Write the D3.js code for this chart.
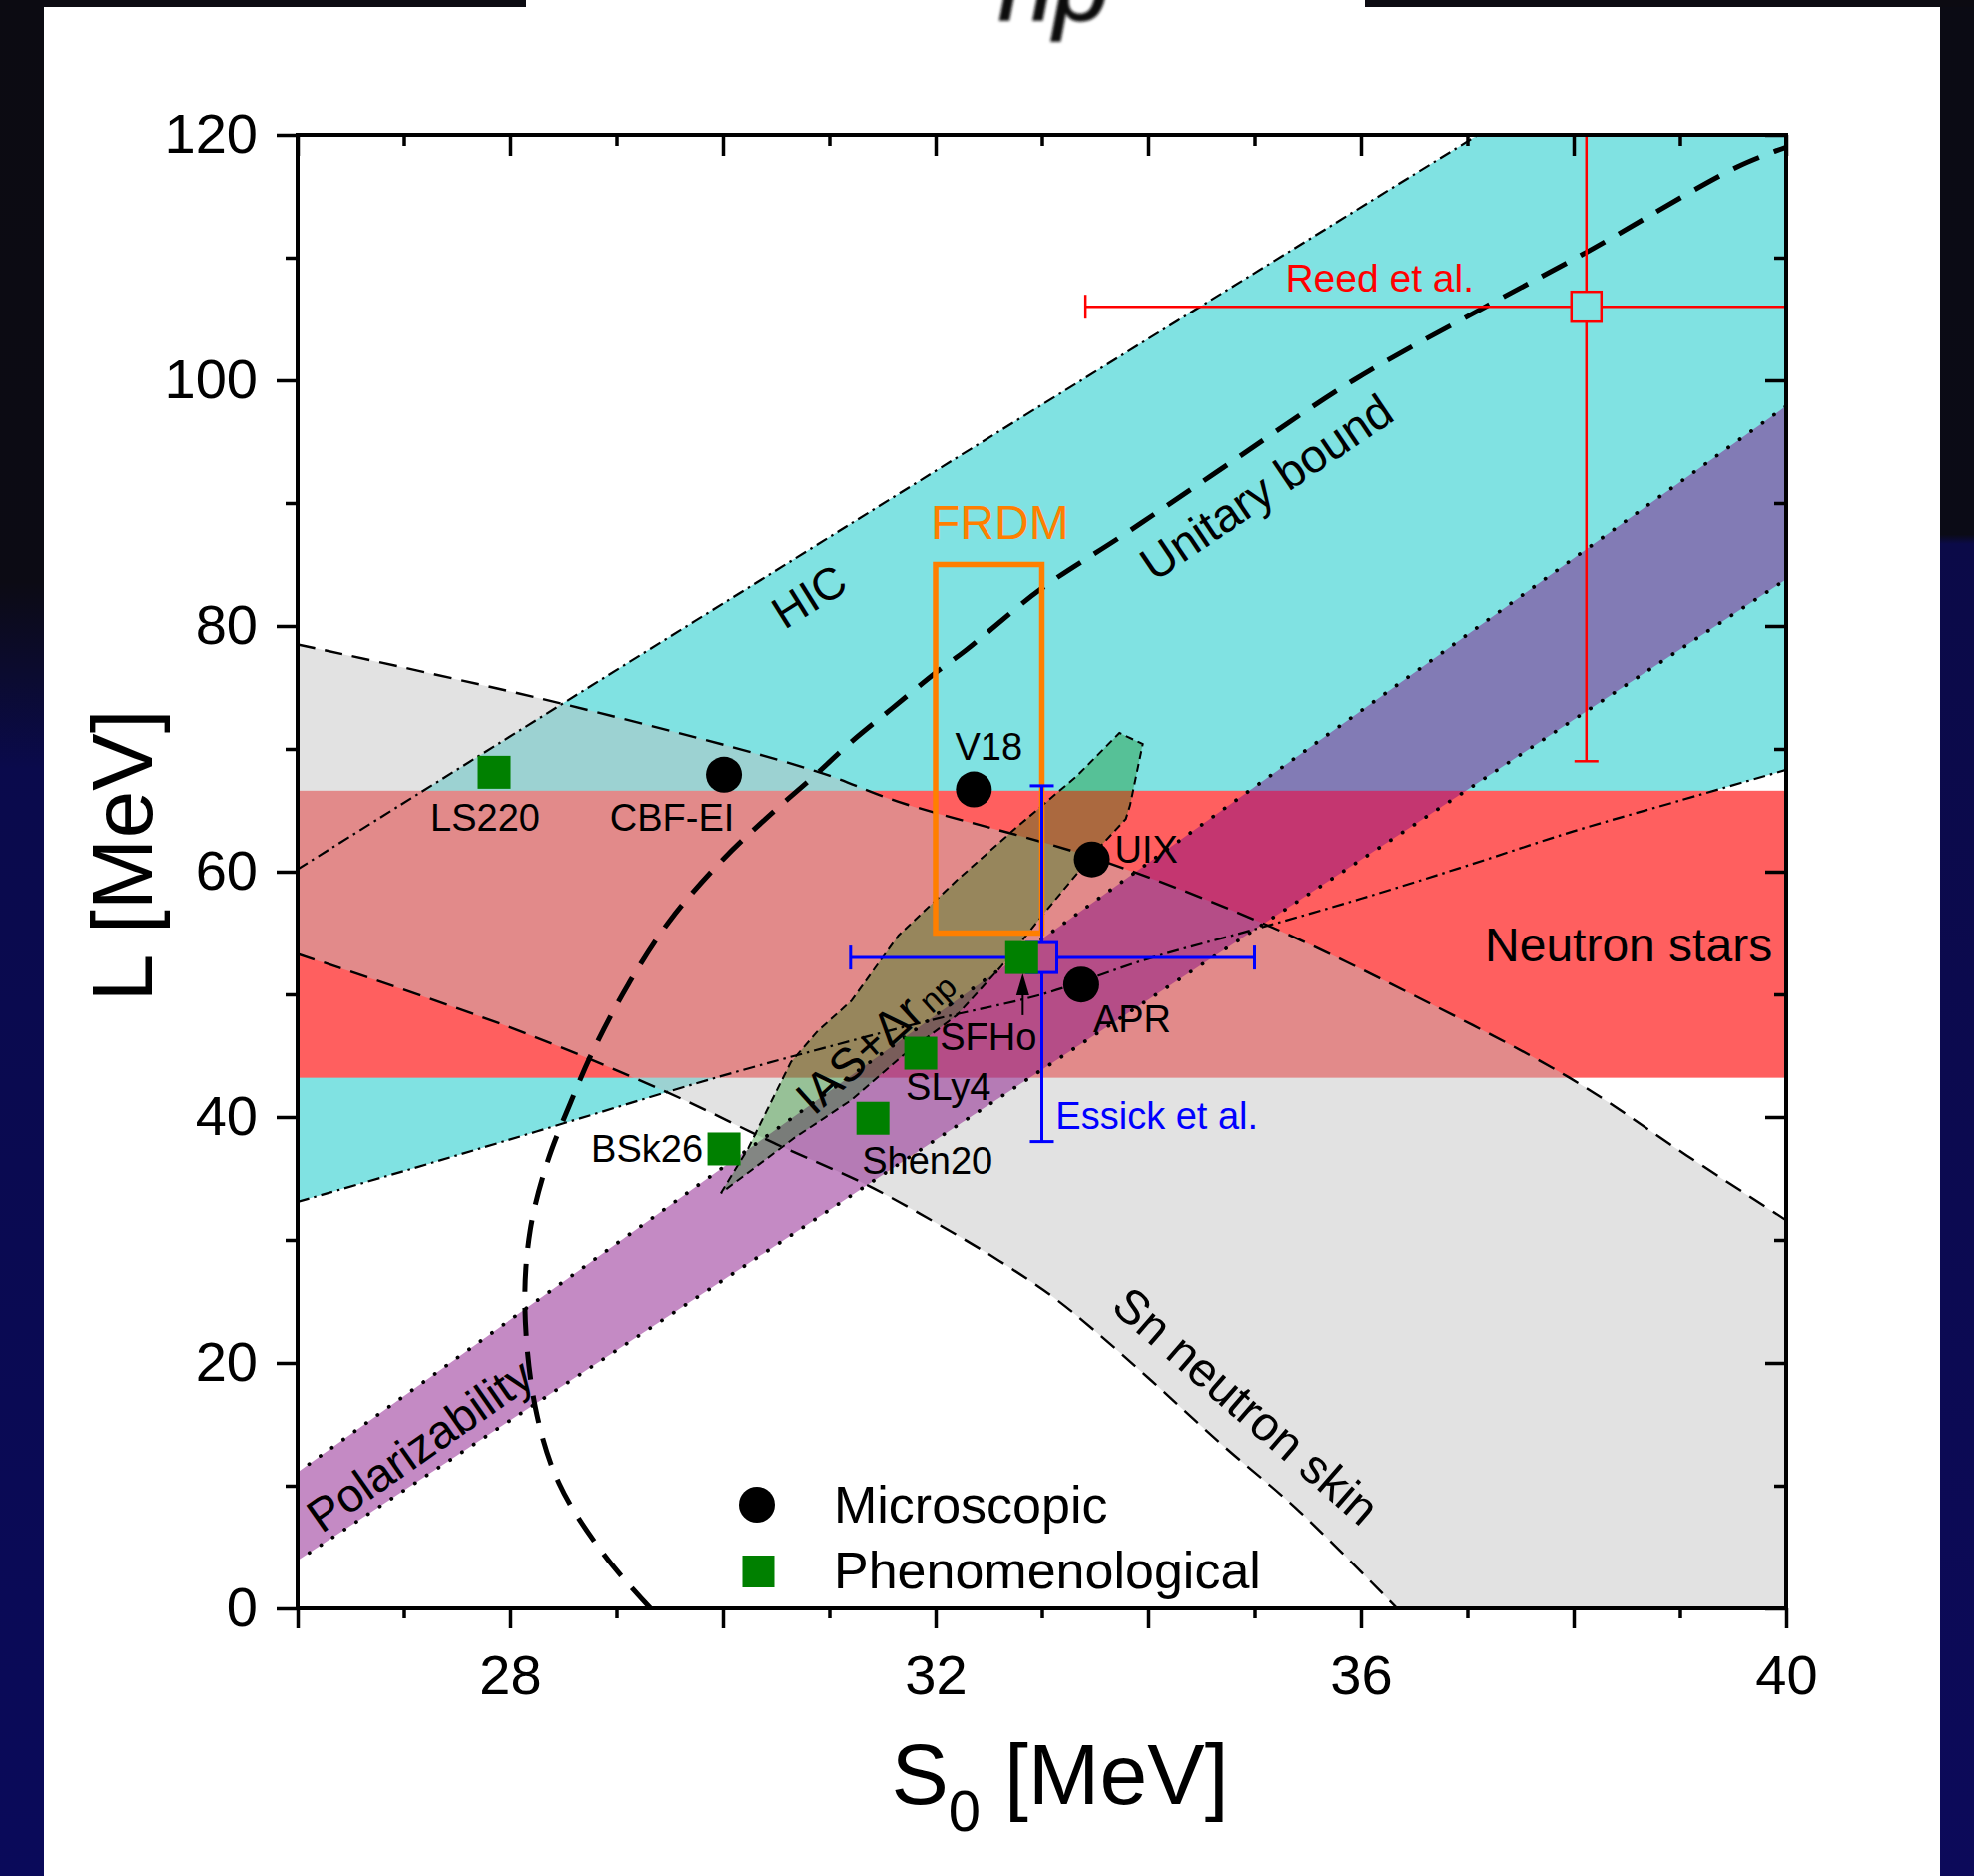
<!DOCTYPE html>
<html>
<head>
<meta charset="utf-8">
<script src="https://cdn.jsdelivr.net/npm/d3@7"></script>
<style>
  html, body { margin: 0; padding: 0; background: #fff; }
  svg { display: block; }
  text { font-family: "Liberation Sans", Arial, Helvetica, sans-serif; }
</style>
</head>
<body>
<svg id="chart" width="1977" height="1879"></svg>
<script>
// ---------------- data ----------------
const xDomain = [26, 40];
const yDomain = [0, 120];
const xMajorTicks = [26, 28, 30, 32, 34, 36, 38, 40];
const xMinorTicks = [27, 29, 31, 33, 35, 37, 39];
const xLabelTicks = [28, 32, 36, 40];
const yMajorTicks = [0, 20, 40, 60, 80, 100, 120];
const yMinorTicks = [10, 30, 50, 70, 90, 110];

// HIC constraint band (boundaries in S0, L)
const hicUpper = [[26, 60.2], [32.59, 95.8], [37.1, 120]];
const hicLower = [[26, 33.1], [27, 35.6], [28.24, 38.8], [29.97, 43.3], [30.94, 45.6],
                  [31.96, 47.9], [33, 50.0], [34, 52.9], [35, 55.3], [36, 57.8],
                  [37, 60.5], [38, 63.3], [39, 65.8], [40, 68.3]];

// Neutron star band in L
const nsBand = [43.2, 66.6];

// Sn neutron skin band
const snUpper = [[26, 78.5], [28.48, 73.7], [30.87, 68.2], [31.65, 65.7], [33.46, 61.2],
                 [35.05, 55.9], [36.5, 49.9], [37.96, 43.2], [39.06, 36.9], [40, 31.6]];
const snLower = [[26, 53.3], [28, 47.3], [29.48, 42.0], [30.5, 37.8], [31.37, 34.4],
                 [32.02, 31.3], [32.6, 28.3], [33.1, 25.4], [33.5, 22.6], [34.0, 18.8],
                 [34.7, 13.3], [35.41, 8.0], [36.34, 0]];

// Dipole polarizability band
const polUpper = [[26, 11.1], [40, 97.9]];
const polLower = [[26, 3.9], [40, 83.8]];

// IAS + Delta r_np contour
const iasContour = [[29.98, 33.8], [30.24, 37.5], [30.45, 41.2], [30.64, 44.5], [30.89, 47.0],
                    [31.21, 49.5], [31.65, 54.8], [32.2, 59.3], [32.76, 63.6], [33.33, 67.8],
                    [33.73, 71.3], [33.95, 70.4], [33.83, 65.4], [33.79, 64.3], [33.49, 61.5],
                    [33.03, 56.7], [32.62, 52.3], [32.2, 48.3], [31.69, 45.0], [31.21, 41.4],
                    [30.67, 38.3]];

// Unitary gas bound
const unitaryBound = [[29.32, 0], [28.89, 4.3], [28.46, 10.2], [28.24, 16.3], [28.14, 24.6],
                      [28.19, 30.8], [28.35, 36.3], [28.57, 41.2], [28.78, 45.4], [29.11, 50.8],
                      [29.5, 56.0], [30.0, 61.0], [30.4, 64.3], [30.87, 67.9], [31.21, 70.6],
                      [31.59, 73.3], [32.0, 76.2], [32.28, 78.0], [32.99, 83.0], [33.75, 87.3],
                      [34.59, 92.2], [35.93, 100.0], [37.17, 106.0], [38.09, 110.3],
                      [39.54, 117.4], [40, 119.0]];

// FRDM box
const frdmS = [32, 33];
const frdmL = [55, 85];

// Reed et al.
const reedS = 38.12, reedL = 106.0;
const reedSRange = [33.41, 42.83];
const reedLRange = [69.0, 143.0];

// Essick et al.
const essickS = 33.0, essickL = 53.0;
const essickSRange = [31.2, 35.0];
const essickLRange = [38.0, 67.0];

// Microscopic calculations
const microNames = ["CBF-EI", "V18", "UIX", "APR"];
const microS = [30.01, 32.36, 33.47, 33.37];
const microL = [67.9, 66.7, 61.0, 50.8];

// Phenomenological models
const phenoNames = ["LS220", "BSk26", "Shen20", "SLy4", "SFHo"];
const phenoS = [27.85, 30.01, 31.41, 31.86, 32.81];
const phenoL = [68.1, 37.4, 39.9, 45.2, 53.0];

// SFHo pointer arrow
const arrowS = 32.82;
const arrowL = [48.3, 51.7];

// ---------------- layout ----------------
const W = 1977, H = 1879;
const plot = { left: 298, right: 1789, top: 135, bottom: 1611 };

const svg = d3.select("#chart");
const x = d3.scaleLinear().domain(xDomain).range([plot.left, plot.right]);
const y = d3.scaleLinear().domain(yDomain).range([plot.bottom, plot.top]);

const defs = svg.append("defs");

// slide backdrop
const gl = defs.append("linearGradient").attr("id", "leftStrip")
  .attr("x1", 0).attr("y1", 0).attr("x2", 0).attr("y2", 1);
[[0, "#0c0b12"], [0.31, "#0c0b14"], [0.36, "#0b0b30"], [0.41, "#0a0a4c"], [1, "#0a0a5a"]]
  .forEach(([o, c]) => gl.append("stop").attr("offset", o).attr("stop-color", c));
const gr = defs.append("linearGradient").attr("id", "rightStrip")
  .attr("x1", 0).attr("y1", 0).attr("x2", 0).attr("y2", 1);
[[0, "#0b0b14"], [0.285, "#0b0b16"], [0.29, "#0b0a48"], [1, "#0c0a5a"]]
  .forEach(([o, c]) => gr.append("stop").attr("offset", o).attr("stop-color", c));

svg.append("rect").attr("width", W).attr("height", H).attr("fill", "#fff");
svg.append("rect").attr("x", 0).attr("y", 0).attr("width", 44).attr("height", H).attr("fill", "url(#leftStrip)");
svg.append("rect").attr("x", 1943).attr("y", 0).attr("width", W - 1943).attr("height", H).attr("fill", "url(#rightStrip)");
svg.append("rect").attr("x", 0).attr("y", 0).attr("width", 527).attr("height", 7).attr("fill", "#0c0b12");
svg.append("rect").attr("x", 1367).attr("y", 0).attr("width", W - 1367).attr("height", 7).attr("fill", "#0c0b12");

// clipped remnant of a heading above the figure
defs.append("filter").attr("id", "soft").append("feGaussianBlur").attr("stdDeviation", 1.8);
svg.append("text").attr("x", 1000).attr("y", 20)
  .attr("font-family", "'Liberation Serif','DejaVu Serif',serif")
  .attr("font-style", "italic").attr("font-size", 100).attr("fill", "#111")
  .attr("stroke", "#111").attr("stroke-width", 1.5)
  .attr("filter", "url(#soft)").text("np");

// plotting area clip
defs.append("clipPath").attr("id", "plotClip").append("rect")
  .attr("x", plot.left).attr("y", plot.top)
  .attr("width", plot.right - plot.left).attr("height", plot.bottom - plot.top);

const g = svg.append("g").attr("clip-path", "url(#plotClip)");

const straight = d3.line().x(d => x(d[0])).y(d => y(d[1]));
const smooth = d3.line().x(d => x(d[0])).y(d => y(d[1])).curve(d3.curveCatmullRom.alpha(0.5));
const closedLinear = d3.line().x(d => x(d[0])).y(d => y(d[1])).curve(d3.curveLinearClosed);

// upper boundary, straight corner segments, then lower boundary walked backwards
function bandPath(upper, corners, lower) {
  let p = smooth(upper);
  corners.forEach(c => { p += "L" + x(c[0]) + "," + y(c[1]); });
  p += smooth(lower.slice().reverse()).replace(/^M/, "L");
  return p + "Z";
}

// fills
g.append("path").attr("d", bandPath(hicUpper, [[xDomain[1], yDomain[1]]], hicLower))
  .attr("fill", "#80e2e2");
g.append("rect").attr("x", x(xDomain[0])).attr("width", x(xDomain[1]) - x(xDomain[0]))
  .attr("y", y(nsBand[1])).attr("height", y(nsBand[0]) - y(nsBand[1]))
  .attr("fill", "#ff5f5f");
g.append("path").attr("d", bandPath(snUpper, [[xDomain[1], yDomain[0]]], snLower))
  .attr("fill", "rgb(190,190,190)").attr("fill-opacity", 0.45);
g.append("path").attr("d", bandPath(polUpper, [], polLower))
  .attr("fill", "rgb(132,11,132)").attr("fill-opacity", 0.48);
g.append("path").attr("d", closedLinear(iasContour))
  .attr("fill", "rgb(0,128,0)").attr("fill-opacity", 0.33);

// boundary lines
[hicUpper, hicLower].forEach(d => g.append("path").attr("d", smooth(d))
  .attr("fill", "none").attr("stroke", "#000").attr("stroke-width", 2.2)
  .attr("stroke-dasharray", "12,5,2.5,5"));
[snUpper, snLower].forEach(d => g.append("path").attr("d", smooth(d))
  .attr("fill", "none").attr("stroke", "#000").attr("stroke-width", 2.4)
  .attr("stroke-dasharray", "18,10"));
[polUpper, polLower].forEach(d => g.append("path").attr("d", straight(d))
  .attr("fill", "none").attr("stroke", "#000").attr("stroke-width", 3.8)
  .attr("stroke-linecap", "round").attr("stroke-dasharray", "0.1,14"));
g.append("path").attr("d", closedLinear(iasContour))
  .attr("fill", "none").attr("stroke", "#000").attr("stroke-width", 2)
  .attr("stroke-dasharray", "8,5");
g.append("path").attr("d", smooth(unitaryBound))
  .attr("fill", "none").attr("stroke", "#000").attr("stroke-width", 5)
  .attr("stroke-dasharray", "28,16");

// FRDM box
g.append("rect").attr("x", x(frdmS[0])).attr("y", y(frdmL[1]))
  .attr("width", x(frdmS[1]) - x(frdmS[0])).attr("height", y(frdmL[0]) - y(frdmL[1]))
  .attr("fill", "none").attr("stroke", "#ff7f00").attr("stroke-width", 5.5);

// error-bar helper: bars stop at the open square's edge
function errorCross(cx, cy, sRange, lRange, color, half, width, capLen, caps) {
  const px = x(cx), py = y(cy);
  const eb = g.append("g").attr("stroke", color).attr("stroke-width", width).attr("fill", "none");
  eb.append("line").attr("x1", x(sRange[0])).attr("x2", px - half).attr("y1", py).attr("y2", py);
  eb.append("line").attr("x1", px + half).attr("x2", x(sRange[1])).attr("y1", py).attr("y2", py);
  eb.append("line").attr("x1", px).attr("x2", px).attr("y1", y(lRange[0])).attr("y2", py + half);
  eb.append("line").attr("x1", px).attr("x2", px).attr("y1", py - half).attr("y2", y(lRange[1]));
  if (caps.includes("left")) eb.append("line").attr("x1", x(sRange[0])).attr("x2", x(sRange[0]))
    .attr("y1", py - capLen / 2).attr("y2", py + capLen / 2);
  if (caps.includes("right")) eb.append("line").attr("x1", x(sRange[1])).attr("x2", x(sRange[1]))
    .attr("y1", py - capLen / 2).attr("y2", py + capLen / 2);
  if (caps.includes("bottom")) eb.append("line").attr("x1", px - capLen / 2).attr("x2", px + capLen / 2)
    .attr("y1", y(lRange[0])).attr("y2", y(lRange[0]));
  if (caps.includes("top")) eb.append("line").attr("x1", px - capLen / 2).attr("x2", px + capLen / 2)
    .attr("y1", y(lRange[1])).attr("y2", y(lRange[1]));
  eb.append("rect").attr("x", px - half).attr("y", py - half).attr("width", 2 * half).attr("height", 2 * half);
}

errorCross(reedS, reedL, reedSRange, reedLRange, "#ff0000", 15, 2.5, 24, ["left", "bottom"]);

// model points
const pts = svg.append("g");
pts.selectAll("circle.micro").data(microNames).join("circle").attr("class", "micro")
  .attr("cx", (d, i) => x(microS[i])).attr("cy", (d, i) => y(microL[i])).attr("r", 18)
  .attr("fill", "#000");
const sq = 33;
pts.selectAll("rect.pheno").data(phenoNames).join("rect").attr("class", "pheno")
  .attr("x", (d, i) => x(phenoS[i]) - sq / 2).attr("y", (d, i) => y(phenoL[i]) - sq / 2)
  .attr("width", sq).attr("height", sq).attr("fill", "#008000");

errorCross(essickS, essickL, essickSRange, essickLRange, "#0000ff", 15, 3, 24, ["left", "right", "top", "bottom"]);

// point labels
const labelPlace = {
  "CBF-EI": ["middle", -52, 56], "V18": ["middle", 15, -30], "UIX": ["start", 23, 3],
  "APR": ["start", 12, 48], "LS220": ["middle", -9, 59], "BSk26": ["end", -21, 13],
  "Shen20": ["start", -11, 56], "SLy4": ["start", -15, 47], "SFHo": ["start", -82, 93]
};
const labelFont = 38;
microNames.forEach((n, i) => {
  const [a, dx, dy] = labelPlace[n];
  svg.append("text").attr("x", x(microS[i]) + dx).attr("y", y(microL[i]) + dy)
    .attr("text-anchor", a).attr("font-size", labelFont).attr("fill", "#000").text(n);
});
phenoNames.forEach((n, i) => {
  const [a, dx, dy] = labelPlace[n];
  svg.append("text").attr("x", x(phenoS[i]) + dx).attr("y", y(phenoL[i]) + dy)
    .attr("text-anchor", a).attr("font-size", labelFont).attr("fill", "#000").text(n);
});

// arrow pointing at SFHo
{
  const ax = x(arrowS), tip = y(arrowL[1]), tail = y(arrowL[0]);
  svg.append("line").attr("x1", ax).attr("x2", ax).attr("y1", tail).attr("y2", tip + 18)
    .attr("stroke", "#000").attr("stroke-width", 2);
  svg.append("path").attr("d", `M${ax},${tip}L${ax - 6.5},${tip + 22}L${ax + 6.5},${tip + 22}Z`)
    .attr("fill", "#000");
}

// annotations
svg.append("text").attr("x", x(frdmS[0]) - 5).attr("y", y(87.1))
  .attr("font-size", 48).attr("fill", "#ff7f00").text("FRDM");
svg.append("text").attr("x", x(35.29)).attr("y", y(107.2))
  .attr("font-size", 39).attr("fill", "#ff0000").text("Reed et al.");
svg.append("text").attr("x", x(33.13)).attr("y", y(39.0))
  .attr("font-size", 38).attr("fill", "#0000ff").text("Essick et al.");
svg.append("text").attr("x", x(39.87)).attr("y", y(52.7)).attr("text-anchor", "end")
  .attr("font-size", 48).attr("fill", "#000").text("Neutron stars");

function rotatedLabel(s, l, angle, size, txt) {
  return svg.append("text")
    .attr("transform", `translate(${x(s)},${y(l)}) rotate(${angle})`)
    .attr("text-anchor", "middle").attr("dominant-baseline", "central")
    .attr("font-size", size).attr("fill", "#000").text(txt);
}
rotatedLabel(30.81, 82.4, -32, 45, "HIC");
rotatedLabel(35.11, 91.3, -34, 47, "Unitary bound");
rotatedLabel(27.15, 13.3, -35, 47, "Polarizability");
rotatedLabel(34.92, 16.5, 41, 48, "Sn neutron skin");
{
  const t = svg.append("text")
    .attr("transform", `translate(${x(31.42)},${y(46.3)}) rotate(-42)`)
    .attr("text-anchor", "middle").attr("dominant-baseline", "central")
    .attr("font-size", 47).attr("fill", "#000");
  t.append("tspan").text("IAS+Δr");
  t.append("tspan").attr("font-size", 33).attr("dx", 6).attr("dy", 8).text("np");
}

// axes
const axisG = svg.append("g");
function styleAxis(sel) {
  sel.select(".domain").remove();
  sel.selectAll(".tick line").attr("stroke", "#000").attr("stroke-width", 3.5);
  sel.selectAll(".tick text").attr("fill", "#000").attr("font-size", 56)
    .attr("font-family", "'Liberation Sans', Arial, sans-serif");
}
axisG.append("g").attr("transform", `translate(0,${plot.bottom})`)
  .call(d3.axisBottom(x).tickValues(xMajorTicks).tickSize(20).tickPadding(26)
    .tickFormat(d => xLabelTicks.includes(d) ? d : "")).call(styleAxis);
axisG.append("g").attr("transform", `translate(0,${plot.bottom})`)
  .call(d3.axisBottom(x).tickValues(xMinorTicks).tickSize(10).tickFormat("")).call(styleAxis);
axisG.append("g").attr("transform", `translate(0,${plot.top})`)
  .call(d3.axisTop(x).tickValues(xMajorTicks).tickSize(-21).tickFormat("")).call(styleAxis);
axisG.append("g").attr("transform", `translate(0,${plot.top})`)
  .call(d3.axisTop(x).tickValues(xMinorTicks).tickSize(-11).tickFormat("")).call(styleAxis);
axisG.append("g").attr("transform", `translate(${plot.left},0)`)
  .call(d3.axisLeft(y).tickValues(yMajorTicks).tickSize(21).tickPadding(19)).call(styleAxis);
axisG.append("g").attr("transform", `translate(${plot.left},0)`)
  .call(d3.axisLeft(y).tickValues(yMinorTicks).tickSize(12).tickFormat("")).call(styleAxis);
axisG.append("g").attr("transform", `translate(${plot.right},0)`)
  .call(d3.axisRight(y).tickValues(yMajorTicks).tickSize(-21).tickFormat("")).call(styleAxis);
axisG.append("g").attr("transform", `translate(${plot.right},0)`)
  .call(d3.axisRight(y).tickValues(yMinorTicks).tickSize(-12).tickFormat("")).call(styleAxis);

svg.append("rect").attr("x", plot.left).attr("y", plot.top)
  .attr("width", plot.right - plot.left).attr("height", plot.bottom - plot.top)
  .attr("fill", "none").attr("stroke", "#000").attr("stroke-width", 4);

// axis titles
{
  const t = svg.append("text").attr("x", (plot.left + plot.right) / 2 + 18).attr("y", 1807)
    .attr("text-anchor", "middle").attr("font-size", 86).attr("fill", "#000");
  t.append("tspan").text("S");
  t.append("tspan").attr("font-size", 58).attr("dy", 27).text("0");
  t.append("tspan").attr("dy", -27).text(" [MeV]");
}
svg.append("text").attr("transform", `translate(152,${(plot.top + plot.bottom) / 2 - 16}) rotate(-90)`)
  .attr("text-anchor", "middle").attr("font-size", 86).attr("fill", "#000").text("L [MeV]");

// legend
const legend = svg.append("g");
legend.append("circle").attr("cx", 758).attr("cy", 1507).attr("r", 18).attr("fill", "#000");
legend.append("rect").attr("x", 759.5 - 16).attr("y", 1574 - 16).attr("width", 32).attr("height", 32)
  .attr("fill", "#008000");
legend.append("text").attr("x", 835).attr("y", 1525).attr("font-size", 52).attr("fill", "#000")
  .text("Microscopic");
legend.append("text").attr("x", 835).attr("y", 1591).attr("font-size", 52).attr("fill", "#000")
  .text("Phenomenological");
</script>
</body>
</html>
